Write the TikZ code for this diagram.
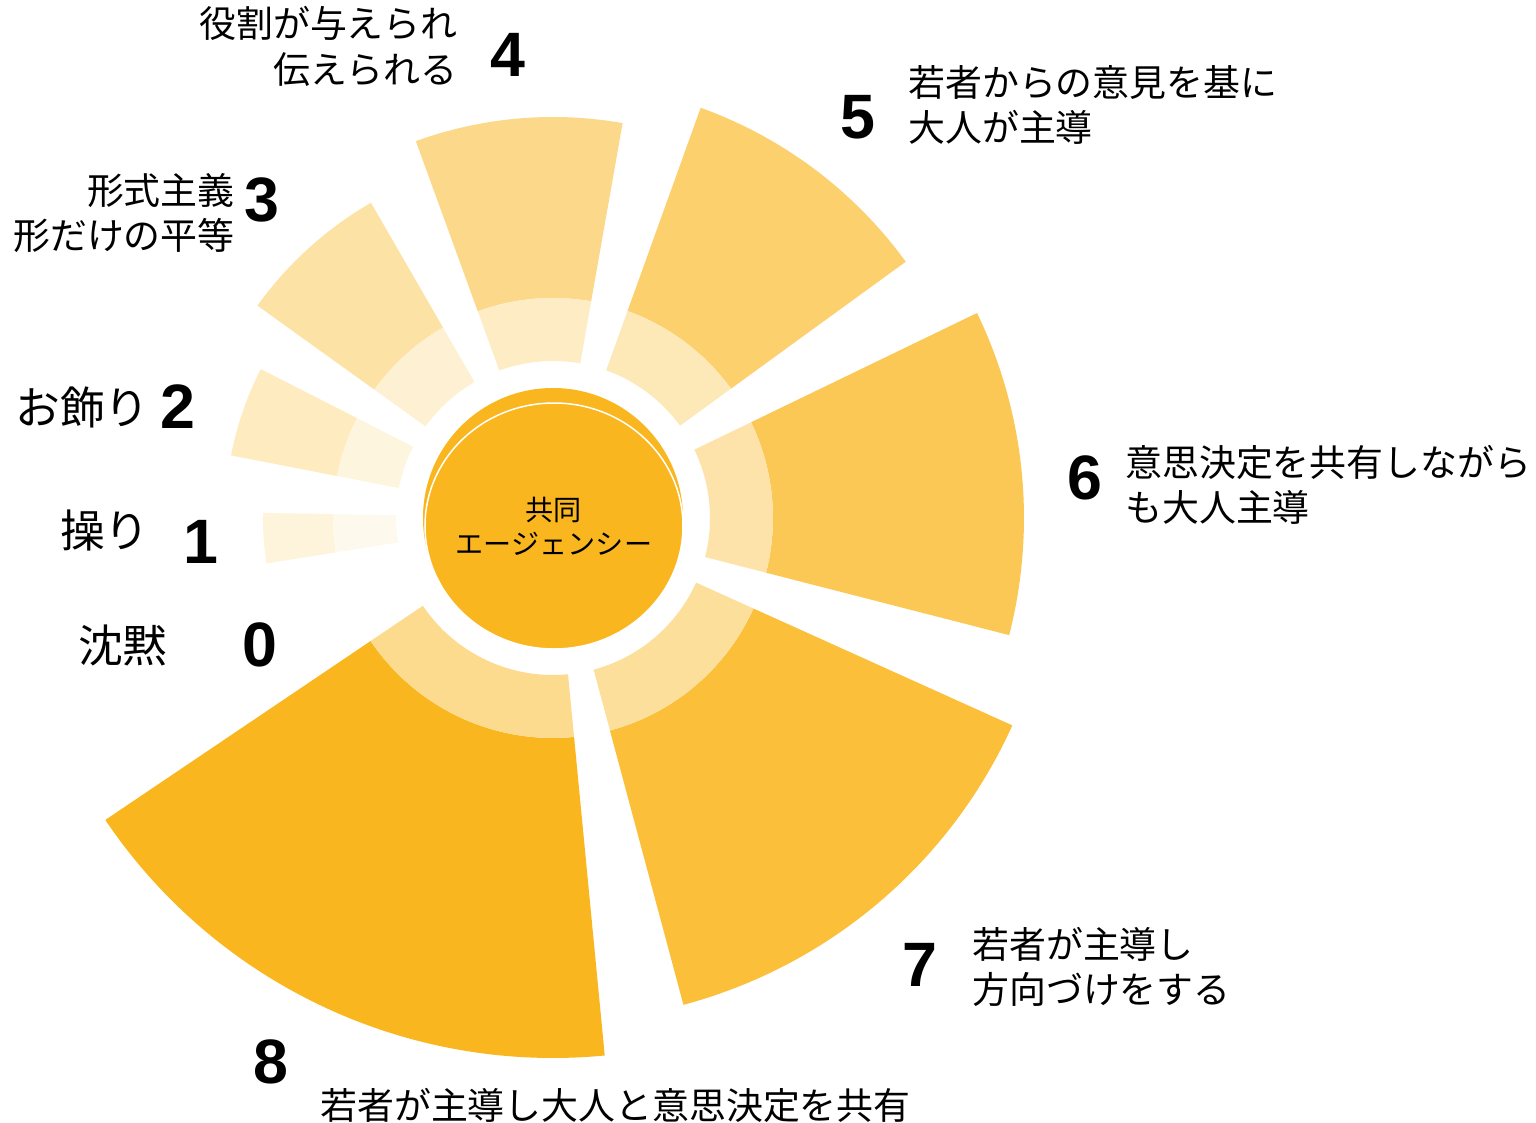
\documentclass[tikz,border=0pt]{standalone}
\usepackage{fontspec}
\newfontfamily\jpfont{Noto Sans CJK JP}
\newfontfamily\numfont{Liberation Sans}
\definecolor{agency}{RGB}{250,182,30}

\begin{document}
\begin{tikzpicture}[x=0.02cm, y=0.02cm,
  jp/.style={font=\jpfont\fontsize{21}{26}\selectfont, inner sep=0pt},
  jpbig/.style={font=\jpfont\fontsize{25.5}{30}\selectfont, inner sep=0pt},
  num/.style={font=\numfont\bfseries\fontsize{35.7}{40}\selectfont, inner sep=0pt}]
\useasboundingbox (-553, -605) rectangle (983, 518);

\fill[agency!16!white] (179:220) arc[start angle=179, end angle=189, radius=220] -- (189:290) arc[start angle=189, end angle=179, radius=290] -- cycle;
\fill[agency!8!white] (179:157) arc[start angle=179, end angle=189, radius=157] -- (189:220) arc[start angle=189, end angle=179, radius=220] -- cycle;

\fill[agency!28!white] (153:220) arc[start angle=153, end angle=169, radius=220] -- (169:328) arc[start angle=169, end angle=153, radius=328] -- cycle;
\fill[agency!14!white] (153:157) arc[start angle=153, end angle=169, radius=157] -- (169:220) arc[start angle=169, end angle=153, radius=220] -- cycle;

\fill[agency!40!white] (120:220) arc[start angle=120, end angle=144.3, radius=220] -- (144.3:364) arc[start angle=144.3, end angle=120, radius=364] -- cycle;
\fill[agency!20!white] (120:157) arc[start angle=120, end angle=144.3, radius=157] -- (144.3:220) arc[start angle=144.3, end angle=120, radius=220] -- cycle;

\fill[agency!52!white] (80:220) arc[start angle=80, end angle=110, radius=220] -- (110:401) arc[start angle=110, end angle=80, radius=401] -- cycle;
\fill[agency!26!white] (80:157) arc[start angle=80, end angle=110, radius=157] -- (110:220) arc[start angle=110, end angle=80, radius=220] -- cycle;

\fill[agency!65!white] (36:220) arc[start angle=36, end angle=70.2, radius=220] -- (70.2:436) arc[start angle=70.2, end angle=36, radius=436] -- cycle;
\fill[agency!32!white] (36:157) arc[start angle=36, end angle=70.2, radius=157] -- (70.2:220) arc[start angle=70.2, end angle=36, radius=220] -- cycle;

\fill[agency!75!white] (-14.4:220) arc[start angle=-14.4, end angle=25.8, radius=220] -- (25.8:471) arc[start angle=25.8, end angle=-14.4, radius=471] -- cycle;
\fill[agency!38!white] (-14.4:157) arc[start angle=-14.4, end angle=25.8, radius=157] -- (25.8:220) arc[start angle=25.8, end angle=-14.4, radius=220] -- cycle;

\fill[agency!88!white] (-75:220) arc[start angle=-75, end angle=-24.3, radius=220] -- (-24.3:504) arc[start angle=-24.3, end angle=-75, radius=504] -- cycle;
\fill[agency!44!white] (-75:157) arc[start angle=-75, end angle=-24.3, radius=157] -- (-24.3:220) arc[start angle=-24.3, end angle=-75, radius=220] -- cycle;

\fill[agency] (214:220) arc[start angle=214, end angle=275.5, radius=220] -- (275.5:540) arc[start angle=275.5, end angle=214, radius=540] -- cycle;
\fill[agency!50!white] (214:157) arc[start angle=214, end angle=275.5, radius=157] -- (275.5:220) arc[start angle=275.5, end angle=214, radius=220] -- cycle;

\fill[agency] (0, 0) circle (130);
\filldraw[fill=agency, draw=white, line width=0.03cm] (1, -8) ellipse [x radius=129, y radius=123];
\draw (1, -8) node[align=center, font=\jpfont\fontsize{16}{19.3}\selectfont] (agencytext) {共同\\エージェンシー};

\draw (-95, 471.5) node[jp, anchor=east, align=right] (role) {役割が与えられ\\伝えられる};
\draw (-45, 463) node[num] (num4) {4};
\draw (-318, 305) node[jp, anchor=east, align=right] (token) {形式主義\\形だけの平等};
\draw (-291, 318) node[num] (num3) {3};
\draw (-403, 111) node[jpbig, anchor=east] (decor) {お飾り};
\draw (-375, 111) node[num] (num2) {2};
\draw (-403, -12) node[jpbig, anchor=east] (manip) {操り};
\draw (-352, -24) node[num] (num1) {1};
\draw (-385, -127) node[jpbig, anchor=east] (silence) {沈黙};
\draw (-293, -127) node[num] (num0) {0};

\draw (305, 401) node[num] (num5) {5};
\draw (355, 413) node[jp, anchor=west, align=left] (consulted) {若者からの意見を基に\\大人が主導};
\draw (532, 40) node[num] (num6) {6};
\draw (572, 33) node[jp, anchor=west, align=left] (shared) {意思決定を共有しながら\\も大人主導};
\draw (367, -447) node[num] (num7) {7};
\draw (419, -449) node[jp, anchor=west, align=left] (youthled) {若者が主導し\\方向づけをする};
\draw (-282, -544) node[num] (num8) {8};
\draw (-233, -587) node[jp, anchor=west] (partner) {若者が主導し大人と意思決定を共有};
\end{tikzpicture}
\end{document}
